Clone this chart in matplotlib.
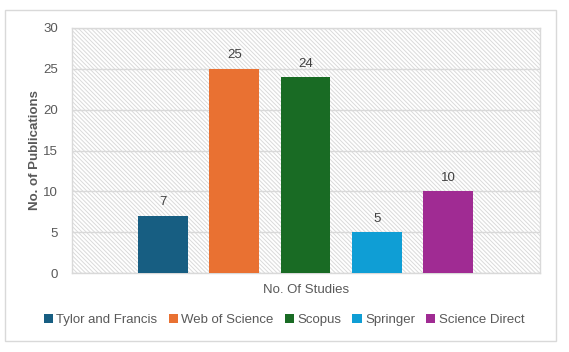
import numpy as np
import matplotlib.pyplot as plt
from matplotlib.patches import Rectangle, Patch

plt.rcParams['font.family'] = ['Liberation Sans', 'DejaVu Sans']
plt.rcParams['hatch.linewidth'] = 0.7
plt.rcParams['hatch.color'] = '#dadada'

# data
sources = ['Tylor and Francis', 'Web of Science', 'Scopus', 'Springer', 'Science Direct']
counts = [7, 25, 24, 5, 10]
colors = ['#175e82', '#e97132', '#196b24', '#0f9ed5', '#a02b93']
yticks = [0, 5, 10, 15, 20, 25, 30]

W, H = 569, 352
fig = plt.figure(figsize=(W/100, H/100), dpi=100)
ax = fig.add_axes([72/W, 1-273/H, (540-72)/W, (273-28)/H])

# hatched plot area background
bg = Rectangle((0, 0), 1, 1, transform=ax.transAxes, facecolor='white',
               edgecolor='#dadada', hatch='\\' * 8, linewidth=0, zorder=0)
ax.add_patch(bg)

x = np.arange(len(sources))
bars = ax.bar(x, counts, width=0.70, color=colors, zorder=3)
for xi, v in zip(x, counts):
    ax.text(xi, v + 0.9, str(v), ha='center', va='bottom', fontsize=9.5, color='#404040', zorder=4)

ax.set_xlim(-1.277, 5.29)
ax.set_ylim(0, 30)
ax.set_yticks(yticks)
ax.set_xticks([])
ax.yaxis.grid(True, color='#d9d9d9', linewidth=1, zorder=1)
ax.set_axisbelow(True)
ax.tick_params(axis='y', length=0, labelsize=9.5, labelcolor='#595959', pad=10)
for s in ax.spines.values():
    s.set_color('#d9d9d9')
    s.set_linewidth(1)

ax.set_ylabel('No. of Publications', fontsize=9.5, fontweight='bold', color='#595959', labelpad=1.5)
ax.set_xlabel('No. Of Studies', fontsize=9.5, color='#595959', labelpad=8)

handles = [Patch(facecolor=c, edgecolor='none') for c in colors]
fig.legend(handles, sources, loc='center', bbox_to_anchor=(284/W, 1-320/H), ncol=5,
           frameon=False, fontsize=9.5, handlelength=0.7, handleheight=0.7,
           handletextpad=0.25, columnspacing=0.85, labelcolor='#595959')

# chart border
fig.patches.append(Rectangle((5/W, 1-341/H), 551/W, 331/H, transform=fig.transFigure,
                             facecolor='none', edgecolor='#d9d9d9', linewidth=1))

fig.savefig('out.png', dpi=100)
